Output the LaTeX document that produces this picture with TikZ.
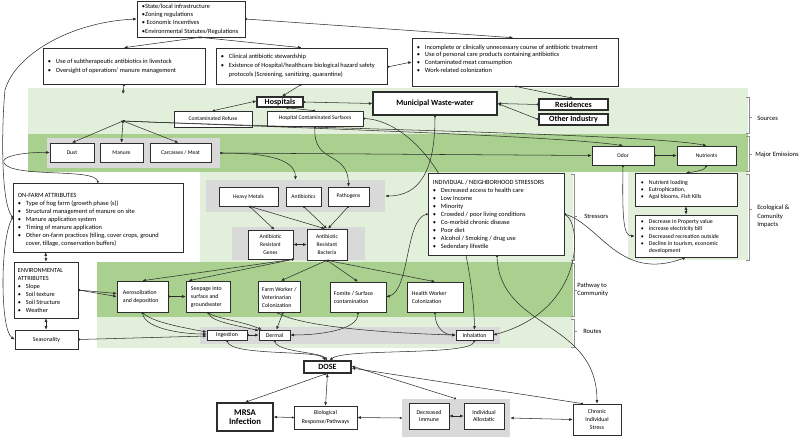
\documentclass[tikz,border=0pt]{standalone}
\usepackage{fontspec}
\setmainfont{Carlito}
\usetikzlibrary{arrows.meta,calc}
\pgfdeclarelayer{bg}
\pgfdeclarelayer{mid}
\pgfsetlayers{bg,mid,main}
\definecolor{lgreen}{RGB}{226,239,218}
\definecolor{dgreen}{RGB}{169,208,142}
\definecolor{grp}{RGB}{217,217,217}
\definecolor{ln}{RGB}{45,45,45}
\newcommand{\fn}{\fontsize{4.2}{6}\selectfont}
\newcommand{\fbul}{\fontsize{4.8}{6}\selectfont}
\newcommand{\fpw}{\fontsize{4.4}{6}\selectfont}
\newcommand{\fb}{\fontsize{6}{7}\selectfont\bfseries}
\newcommand{\fsec}{\fontsize{4.9}{6.3}\selectfont}
\newcommand{\bu}{\makebox[6pt][l]{•}}
\newcommand{\ind}{\hspace*{6pt}}
\tikzset{
  wh/.style 2 args={minimum width=#1*0.75pt, minimum height=#2*0.75pt},
  box/.style={draw=ln, fill=white, line width=0.45pt, inner sep=0pt, font=\fn, align=center},
  bbox/.style={box, line width=0.9pt, font=\fb},
  txt/.style={inner sep=0pt, font=\fbul, align=left, anchor=west},
  grpbox/.style={fill=grp, draw=none, inner sep=0pt},
  con/.style={draw=ln, line width=0.4pt, {Circle[length=1.5pt]}-{Latex[length=2.6pt,width=2.2pt]}},
  con2/.style={draw=ln, line width=0.4pt, {Latex[length=2.6pt,width=2.2pt]}-{Latex[length=2.6pt,width=2.2pt]}},
  brk/.style={draw=black!45, line width=0.35pt},
  lab/.style={inner sep=0pt, font=\fsec, align=left, anchor=west},
}
\begin{document}
\begin{tikzpicture}[x=0.75pt,y=-0.75pt]
\useasboundingbox (0,0) rectangle (800,437);
\begin{pgfonlayer}{bg}
\fill[lgreen] (28,88) rectangle (748,134);
\fill[dgreen] (28,134) rectangle (748,172);
\fill[lgreen] (200,172) rectangle (573,262);
\fill[lgreen] (628,172) rectangle (748,260);
\fill[dgreen] (97,262) rectangle (573,317);
\fill[lgreen] (97,317) rectangle (573,348);
\node[grpbox, wh={173}{30}] (g1) at (133.5,153) {};
\node[grpbox, wh={179}{32}] (g2) at (295.5,196) {};
\node[grpbox, wh={133}{33}] (g3) at (298.5,243.5) {};
\node[grpbox, wh={300}{17}] (g4) at (350,335.5) {};
\node[grpbox, wh={108}{38}] (g5) at (456,418) {};
\end{pgfonlayer}

% brackets and section labels
\draw[brk] (746,97) -- (749,97) -- (749,133) -- (746,133) (749,117) -- (752,117);
\draw[brk] (746,136) -- (749,136) -- (749,171) -- (746,171) (749,154) -- (752,154);
\draw[brk] (746,174) -- (749,174) -- (749,260) -- (746,260) (749,209) -- (752,209);
\draw[brk] (571,174) -- (574,174) -- (574,260) -- (571,260) (574,216) -- (577,216);
\draw[brk] (571,263) -- (574,263) -- (574,316) -- (571,316) (574,290) -- (577,290);
\draw[brk] (571,319) -- (574,319) -- (574,347) -- (571,347) (574,331) -- (577,331);
\node[lab] (lsrc) at (757,118) {Sources};
\node[lab] (lme) at (755,155) {Major Emissions};
\node[lab, font=\fontsize{4.9}{6.4}\selectfont] (leco) at (757,216.5) {Ecological \&\\Comunity\\Impacts};
\node[lab] (lstr) at (584,216) {Stressors};
\node[lab, font=\fontsize{4.9}{6}\selectfont] (lpath) at (577,290) {Pathway to\\Community};
\node[lab] (lrt) at (583,331) {Routes};

% top boxes
\node[box, wh={108}{36}] (policy) at (191,19) {};
\node[txt, font=\fontsize{4.8}{6.2}\selectfont] (policyT) at ($(policy.west)+(5,0)$) {•State/local infrastructure\\•Zoning regulations\\• Economic Incentives\\•Environmental Statutes/Regulations};
\node[box, wh={162}{36}] (livestock) at (124,66) {};
\node[txt, font=\fontsize{4.8}{6.6}\selectfont] (livestockT) at ($(livestock.west)+(5,0)$) {\bu Use of subtherapeutic antibiotics in livestock\\\bu Oversight of operations’ manure management};
\node[box, wh={171}{36}] (clinical) at (301.5,66) {};
\node[txt, font=\fontsize{4.8}{6.6}\selectfont] (clinicalT) at ($(clinical.west)+(5,0)$) {\bu Clinical antibiotic stewardship\\\bu Existence of Hospital/healthcare biological hazard safety\\\ind protocols (Screening, sanitizing, quarantine)};
\node[box, wh={206}{48}] (incomplete) at (515,62) {};
\node[txt, font=\fontsize{4.8}{5.8}\selectfont] (incompleteT) at ($(incomplete.west)+(5,-3.5)$) {\bu Incomplete or clinically unnecessary course of antibiotic treatment\\\bu Use of personal care products containing antibiotics\\\bu Contaminated meat consumption\\\bu Work-related colonization};

% sources
\node[bbox, wh={46}{10}] (hospitals) at (280,102) {Hospitals};
\node[box, wh={78}{16}] (refuse) at (213,119) {Contaminated Refuse};
\node[box, wh={96}{15}] (surfaces) at (315,118.5) {Hospital Contaminated Surfaces};
\node[bbox, wh={124}{23}] (municipal) at (435,103.5) {Municipal Waste-water};
\node[bbox, wh={69}{11}] (residences) at (573.5,104.5) {Residences};
\node[bbox, wh={69}{11}] (industry) at (573.5,119.5) {Other Industry};

% emissions
\node[box, wh={44}{19}] (dust) at (72,152.5) {Dust};
\node[box, wh={43}{19}] (manure) at (121.5,152.5) {Manure};
\node[box, wh={61}{19}] (carcass) at (180.5,152.5) {Carcasses / Meat};
\node[box, wh={62}{19}] (odor) at (623,155.5) {Odor};
\node[box, wh={59}{19}] (nutrients) at (706.5,155.5) {Nutrients};

% middle
\node[box, wh={170}{69}] (onfarm) at (98,217.5) {};
\node[txt] (onfarmT) at ($(onfarm.west)+(5,2)$) {ON-FARM ATTRIBUTES\\\bu Type of hog farm (growth phase (s))\\\bu Structural management of manure on site\\\bu Manure application system\\\bu Timing of manure application\\\bu Other on-farm practices (tiling, cover crops, ground\\\ind cover, tillage, conservation buffers)};
\node[box, wh={59}{19}] (heavy) at (248.5,196.5) {Heavy Metals};
\node[box, wh={35}{19}] (antib) at (303.5,196.5) {Antibiotics};
\node[box, wh={41}{19}] (patho) at (348.5,196.5) {Pathogens};
\node[box, wh={45}{29}] (arg) at (270.5,244.5) {Antibiotic\\Resistant\\Genes};
\node[box, wh={40}{31}] (arb) at (327,244.5) {Antibiotic\\Resistant\\Bacteria};
\node[box, wh={136}{82}] (stress) at (496,214) {};
\node[txt] (stressT) at ($(stress.west)+(5,0.5)$) {INDIVIDUAL / NEIGHBORHOOD STRESSORS\\\bu Decreased access to health care\\\bu Low Income\\\bu Minority\\\bu Crowded / poor living conditions\\\bu Co-morbid chronic disease\\\bu Poor diet\\\bu Alcohol / Smoking / drug use\\\bu Sedendary lifestile};
\node[box, wh={102}{33}] (nutload) at (686,189.5) {};
\node[txt, font=\fontsize{4.4}{5.5}\selectfont] (nutloadT) at ($(nutload.west)+(6,0.5)$) {\bu Nutrient loading\\\bu Eutrophication,\\\bu Agal blooms. Fish Kills};
\node[box, wh={102}{42}] (decprop) at (686,236) {};
\node[txt, font=\fontsize{4.4}{5.5}\selectfont] (decpropT) at ($(decprop.west)+(6,0.5)$) {\bu Decrease in Property value\\\bu increase electricity bill\\\bu Decreased recreation outside\\\bu Decline in tourism, economic\\\ind development};

% pathway
\node[box, wh={64}{56}] (env) at (46,290) {};
\node[txt, font=\fontsize{4.7}{6}\selectfont] (envT) at ($(env.west)+(4,0)$) {ENVIRONMENTAL\\ATTRIBUTES\\\bu Slope\\\bu Soil texture\\\bu Soil Structure\\\bu Weather};
\node[box, wh={63}{19}, font=\fpw] (season) at (46.5,339.5) {Seasonality};
\node[box, wh={51}{31}] (aero) at (142.5,296.5) {};
\node[txt, font=\fpw] (aeroT) at ($(aero.west)+(6,0.5)$) {Aerosolization\\and deposition};
\node[box, wh={44}{31}] (seep) at (208,296.5) {};
\node[txt, font=\fpw] (seepT) at ($(seep.west)+(5,0.5)$) {Seepage into\\surface and\\groundwater};
\node[box, wh={42}{31}] (farm) at (279,296.5) {};
\node[txt, font=\fpw] (farmT) at ($(farm.west)+(4,0.5)$) {Farm Worker /\\Veterinarian\\Colonization};
\node[box, wh={56}{30}] (fomite) at (358,297) {};
\node[txt, font=\fpw] (fomiteT) at ($(fomite.west)+(4,0.5)$) {Fomite / Surface\\contamination};
\node[box, wh={56}{30}] (health) at (435,297) {};
\node[txt, font=\fpw] (healthT) at ($(health.west)+(5,0.5)$) {Health Worker\\Colonization};

% routes and bottom
\node[box, wh={40}{10}, font=\fpw] (ingest) at (227,335) {Ingestion};
\node[box, wh={31}{10}, font=\fpw] (dermal) at (274.5,335) {Dermal};
\node[box, wh={37}{10}, font=\fpw] (inhal) at (474.5,335) {Inhalation};
\node[bbox, wh={47}{12}] (dose) at (327.5,367) {DOSE};
\node[bbox, wh={56}{28}, font=\fontsize{6.5}{6.8}\selectfont\bfseries] (mrsa) at (245,417) {MRSA\\Infection};
\node[box, wh={63}{23}, font=\fontsize{4.4}{6.6}\selectfont] (bio) at (325.5,417.5) {Biological\\Response/Pathways};
\node[box, wh={40}{26}, font=\fontsize{4.4}{5.6}\selectfont] (decimm) at (429,416) {Decreased\\Immune};
\node[box, wh={40}{26}, font=\fontsize{4.4}{5.6}\selectfont] (allo) at (484,416) {Individual\\Allostatic};
\node[box, wh={48}{31}, font=\fpw] (chronic) at (597,419.5) {Chronic\\Individual\\Stress};

\coordinate (hubA) at (123,94);
\coordinate (hubB) at (123,121);

% connector behind the stressor box
\begin{pgfonlayer}{mid}
\draw[con] (surfaces.east) .. controls (400,120) and (440,160) .. (455,210) .. controls (465,245) and (474,290) .. (inhal.north);
\end{pgfonlayer}

% top connectors
\draw[con] ($(policy.south)+(9,0)$) -- (livestock.north);
\draw[con] ($(policy.south)+(9,0)$) -- (clinical.north);
\draw[con] (policy.east) -- ($(incomplete.north)+(-2,0)$);
\draw[con] (onfarm.west) .. controls (0,200) and (2,120) .. (5,90) .. controls (15,55) and (70,22) .. (policy.west);
\draw[con] (onfarm.west) .. controls (0,240) and (0,330) .. (season.west);
\draw[con] (onfarm.north) .. controls (95,168) and (12,178) .. (4,163) .. controls (0,156) and (25,152) .. (dust.west);
\draw[con] (livestock.south) -- (hubA);
\draw[con] (hubB) -- (dust.north);
\draw[con] (hubB) -- (manure.north);
\draw[con] (hubB) -- ($(carcass.north)+(-2,0)$);
\draw[con] (hubB) .. controls (300,128) and (560,136) .. (odor.north);
\draw[con] (hubB) .. controls (300,128) and (650,134) .. (nutrients.north);
\draw[con] (clinical.south) -- ($(hospitals.north)+(2,0)$);
\draw[con] (incomplete.south) -- (residences.north);
\draw[con] ($(clinical.east)+(0,1)$) -- (incomplete.west);
\draw[con] (refuse.north) -- ($(hospitals.west)+(0,-1)$);
\draw[con] (surfaces.north) -- ($(hospitals.south)+(5,0)$);
\draw[con] (hospitals.east) -- (municipal.west);
\draw[con] (residences.west) -- (municipal.east);
\draw[con] (industry.west) -- (municipal.east);
\draw[con] (municipal.south) .. controls (435,170) and (420,196) .. (g2.east);
\draw[con] (surfaces.south) .. controls (313,165) and (348,150) .. (patho.north);
\draw[con] (g1.east) -- (odor.west);
\draw[con] (g1.east) .. controls (270,153) and (295,160) .. (g2.north);
\draw[con] (odor.east) -- (nutrients.west);
\draw[con] (odor.south) .. controls (622,222) and (624,236) .. (decprop.west);
\draw[con] (nutrients.south) .. controls (705,170) and (695,172) .. (nutload.north);
\draw[con2] (nutload.south) -- (decprop.north);
\draw[con] (stress.east) .. controls (600,225) and (620,282) .. (decprop.south);
\draw[con] (stress.east) .. controls (582,225) and (585,310) .. (inhal.east);
\draw[con] ($(stress.south)+(1,0)$) .. controls (500,330) and (597,320) .. (chronic.north);
\draw[con] (stress.west) .. controls (405,220) and (410,290) .. (fomite.east);

% genes / bacteria
\draw[con] ($(heavy.south)+(1,0)$) -- ($(arg.north)+(4,0)$);
\draw[con] ($(heavy.south)+(1,0)$) -- ($(arb.north)+(-2,0)$);
\draw[con] (antib.south) -- (arb.north);
\draw[con] (patho.south) -- ($(arb.north)+(1,0)$);
\draw[con2] (arg.east) -- (arb.west);
\draw[con] (arg.south east) -- (aero.north);
\draw[con] (arg.south east) -- ($(seep.north west)+(3,0)$);
\draw[con] (arb.south) -- ($(farm.north)+(2,0)$);
\draw[con] (arb.south) -- (fomite.north);
\draw[con] (arb.south) -- (health.north);

% pathways and routes
\draw[con2] ($(onfarm.south west)+(33,0)$) -- (env.north);
\draw[con2] (env.south) -- ($(season.north)+(-0.5,0)$);
\draw[con] (env.east) -- ($(aero.west)+(0,-3)$);
\draw[con] (env.east) -- (aero.west);
\draw[con] (aero.east) -- (seep.west);
\draw[con] (aero.south) .. controls (145,328) and (180,334) .. ($(ingest.west)+(0,-1)$);
\draw[con] (aero.south) .. controls (152,322) and (185,328) .. ($(ingest.west)+(0,-3)$);
\draw[con] (season.east) -- ($(ingest.west)+(0,1)$);
\draw[con] (seep.south) .. controls (212,322) and (240,326) .. ($(dermal.north west)+(0,1)$);
\draw[con] (seep.south) .. controls (215,318) and (245,322) .. ($(dermal.north west)+(3,0)$);
\draw[con] ($(farm.south)+(4,0)$) -- ($(dermal.north)+(2,0)$);
\draw[con] ($(farm.south)+(-2,0)$) .. controls (300,326) and (380,333) .. (inhal.west);
\draw[con] (fomite.south) .. controls (358,330) and (320,335) .. (dermal.east);
\draw[con] (health.south) .. controls (435,328) and (445,335) .. (inhal.west);
\draw[con] (ingest.east) -- (dermal.west);
\draw[con] (ingest.south) .. controls (232,356) and (318,350) .. ($(dose.north)+(-2,0)$);
\draw[con] (dermal.south) .. controls (278,352) and (320,352) .. (dose.north);
\draw[con] (inhal.south) .. controls (470,356) and (345,348) .. ($(dose.north)+(2,0)$);

% bottom
\draw[con2] (dose.south) -- (bio.north);
\draw[con] ($(dose.south)+(-1,0)$) -- (mrsa.north);
\draw[con] (bio.west) -- (mrsa.east);
\draw[con] (g5.west) -- (bio.east);
\draw[con2] (decimm.east) -- (allo.west);
\draw[con2] (g5.east) -- (chronic.west);
\draw[con] (g5.north) -- ($(dose.east)+(0,-1)$);
\draw[con] ($(chronic.north)+(-14,0)$) -- ($(dose.east)+(0,1)$);
\end{tikzpicture}
\end{document}
